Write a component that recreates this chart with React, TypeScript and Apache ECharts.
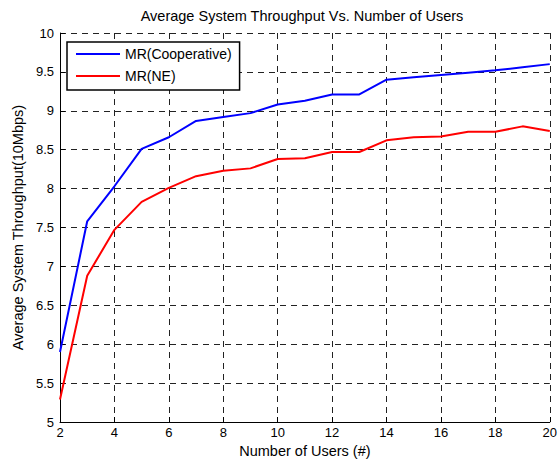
import React, { useEffect, useRef } from "react";
import * as echarts from "echarts";

const users = [2, 3, 4, 5, 6, 7, 8, 9, 10, 11, 12, 13, 14, 15, 16, 17, 18, 19, 20];
const cooperative = [5.9, 7.58, 8.03, 8.51, 8.66, 8.87, 8.92, 8.97, 9.08, 9.13, 9.21, 9.21, 9.4, 9.43, 9.46, 9.49, 9.52, 9.56, 9.6];
const ne = [5.29, 6.88, 7.47, 7.83, 8.01, 8.16, 8.23, 8.26, 8.38, 8.39, 8.47, 8.47, 8.62, 8.66, 8.67, 8.73, 8.73, 8.8, 8.74];
const seriesNames = ["MR(Cooperative)", "MR(NE)"];
const titleText = "Average System Throughput Vs. Number of Users";
const xName = "Number of Users (#)";
const yName = "Average System Throughput(10Mbps)";

const FONT = "'Liberation Sans', Arial, Helvetica, sans-serif";

export default function App() {
  const ref = useRef<HTMLDivElement>(null);
  useEffect(() => {
    document.body.style.margin = "0";
    if (!ref.current) return;
    const chart = echarts.init(ref.current, null, { renderer: "svg" });
    const gridLine = { show: true, lineStyle: { color: "#222", width: 1, type: [6, 5] } };
    chart.setOption({
      animation: false,
      backgroundColor: "#fff",
      textStyle: { fontFamily: FONT },
      title: {
        text: titleText,
        left: 302,
        textAlign: "center",
        top: 8,
        padding: 0,
        textStyle: { fontSize: 14.5, fontWeight: "normal", color: "#000", fontFamily: FONT },
      },
      legend: {
        orient: "vertical",
        left: 67,
        top: 42,
        padding: [4, 8, 6, 9],
        itemGap: 6,
        itemWidth: 44,
        itemHeight: 2,
        itemTextGap: 6,
        icon: "rect",
        borderColor: "#000",
        borderWidth: 1.5,
        borderRadius: 0,
        backgroundColor: "#fff",
        textStyle: { fontSize: 14, lineHeight: 16, color: "#000", fontFamily: FONT },
        data: seriesNames,
      },
      grid: { left: 60, right: 8, top: 33, bottom: 43, containLabel: false },
      xAxis: {
        type: "value",
        min: 2,
        max: 20,
        interval: 2,
        name: xName,
        nameLocation: "middle",
        nameGap: 21,
        nameTextStyle: { fontSize: 14.5, color: "#000", fontFamily: FONT },
        axisLine: { show: true, onZero: false, lineStyle: { color: "#000", width: 1 } },
        axisTick: { show: true, inside: true, length: 5, lineStyle: { color: "#000" } },
        axisLabel: { fontSize: 13, color: "#000", margin: 4, fontFamily: FONT },
        splitLine: gridLine,
      },
      yAxis: {
        type: "value",
        min: 5,
        max: 10,
        interval: 0.5,
        name: yName,
        nameLocation: "middle",
        nameGap: 35,
        nameTextStyle: { fontSize: 14.5, color: "#000", fontFamily: FONT },
        axisLine: { show: true, onZero: false, lineStyle: { color: "#000", width: 1 } },
        axisTick: { show: true, inside: true, length: 5, lineStyle: { color: "#000" } },
        axisLabel: { fontSize: 13, color: "#000", margin: 6, fontFamily: FONT },
        splitLine: gridLine,
      },
      series: [
        {
          name: seriesNames[0],
          type: "line",
          data: users.map((u, i) => [u, cooperative[i]]),
          showSymbol: false,
          symbol: "none",
          lineStyle: { color: "#0000ff", width: 2 },
          itemStyle: { color: "#0000ff" },
          z: 3,
        },
        {
          name: seriesNames[1],
          type: "line",
          data: users.map((u, i) => [u, ne[i]]),
          showSymbol: false,
          symbol: "none",
          lineStyle: { color: "#ff0000", width: 2 },
          itemStyle: { color: "#ff0000" },
          z: 3,
        },
      ],
    });
    return () => chart.dispose();
  }, []);
  return <div ref={ref} style={{ width: 560, height: 465 }} />;
}
